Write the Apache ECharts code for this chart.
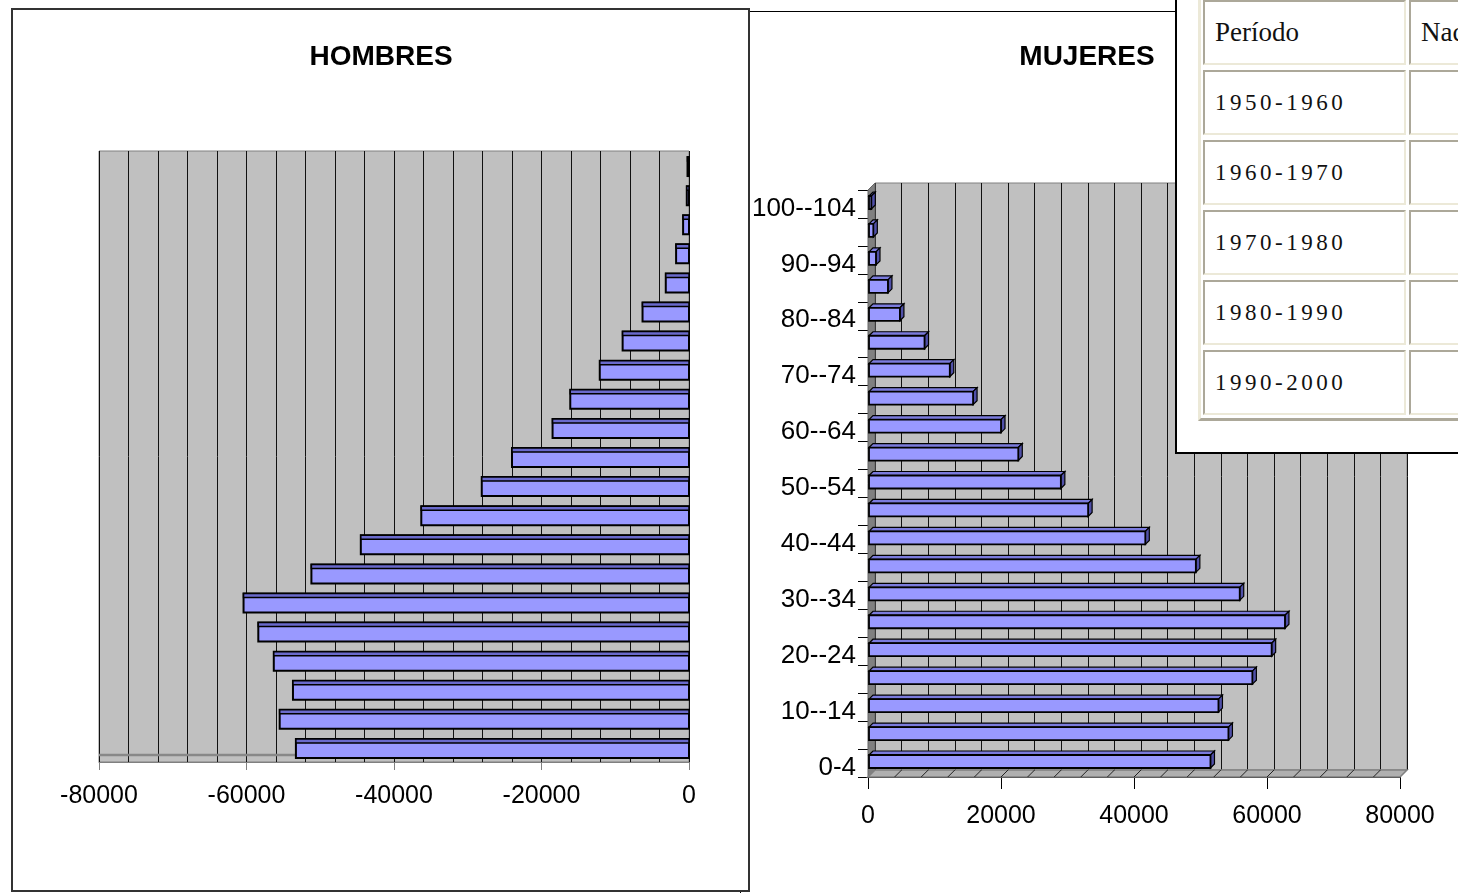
<!DOCTYPE html>
<html><head><meta charset="utf-8">
<script src="https://cdn.jsdelivr.net/npm/echarts@6/dist/echarts.min.js"></script>
<style>
html,body{margin:0;padding:0;width:1458px;height:893px;overflow:hidden;background:#fff;}
#boxR{position:absolute;left:740px;top:11px;width:900px;height:1000px;border:1.5px solid #000;z-index:0;}
#boxL{position:absolute;left:11px;top:8px;width:735px;height:880px;border:2px solid #333;background:#fff;z-index:1;}
#chart{position:absolute;left:0;top:0;width:1458px;height:893px;z-index:2;}
#tbox{position:absolute;left:1175px;top:-20px;width:400px;height:470px;border:2px solid #000;background:#fff;z-index:3;}
#tframe{position:absolute;left:1198px;top:-7px;width:500px;height:428px;box-sizing:border-box;border:3px solid;border-color:#ece9d8 #aca899 #aca899 #ece9d8;z-index:4;}
.cell{position:absolute;box-sizing:border-box;height:65px;border:2px solid;border-color:#aca899 #ece9d8 #ece9d8 #aca899;padding-left:10px;line-height:61px;font-family:"Liberation Serif","DejaVu Serif",serif;color:#111;z-index:5;white-space:nowrap;overflow:hidden;}
.hdr{font-size:27px;}
.per{font-size:23px;letter-spacing:3.5px;}
</style>
</head><body>
<div id="boxR"></div>
<div id="boxL"></div>
<div id="chart"></div>
<div id="tbox"></div>
<div id="tframe"></div>
<script>
const categories = ['0-4','5--9','10--14','15--19','20--24','25--29','30--34','35--39','40--44','45--49','50--54','55--59','60--64','65--69','70--74','75--79','80--84','85--89','90--94','95--99','100--104'];
const hombres = [-53300,-55500,-53700,-56300,-58400,-60400,-51200,-44500,-36300,-28100,-24000,-18500,-16100,-12100,-9000,-6300,-3150,-1750,-800,-300,-200];
const mujeres = [51500,54200,52700,57800,60700,62700,55900,49300,41700,33100,29000,22600,20000,15800,12300,8500,4800,3000,1200,800,500];
const titles = ['HOMBRES','MUJERES'];
const tableHeaders = ['Período','Nacimientos'];
const periods = ['1950-1960','1960-1970','1970-1980','1980-1990','1990-2000'];

// table overlay
(function(){
  const colX = [1203, 1409], colW = [203, 300];
  const rows = [tableHeaders].concat(periods.map(p => [p, '']));
  rows.forEach((r, ri) => {
    r.forEach((t, ci) => {
      const d = document.createElement('div');
      d.className = 'cell ' + (ri === 0 ? 'hdr' : 'per');
      d.style.left = colX[ci] + 'px';
      d.style.top = (ri * 70) + 'px';
      d.style.width = colW[ci] + 'px';
      d.textContent = t;
      document.body.appendChild(d);
    });
  });
})();

const FONT = '"Liberation Sans", Arial, sans-serif';
const GRID_STEP = 4000;
const chart = echarts.init(document.getElementById('chart'), null, {renderer:'canvas'});

function leftFloor(params, api){
  const b = api.size([0,1])[1];
  const pb = api.coord([0,0]);
  const xl = api.coord([-80000,0])[0];
  const y = pb[1] + b/2 - 7;
  return {type:'line', shape:{x1:xl, y1:y, x2:pb[0], y2:y}, style:{stroke:'#888', lineWidth:2.5}};
}
function flatBar(params, api){
  const v = api.value(0), i = api.value(1);
  const p0 = api.coord([0,i]), p1 = api.coord([v,i]);
  const h = 19, y = p0[1] - h/2 + 1;
  const x = Math.min(p0[0], p1[0]), w = Math.abs(p1[0]-p0[0]);
  return {type:'group', children:[
    {type:'rect', shape:{x:x, y:y, width:w, height:h}, style:{fill:'#9999ff', stroke:'#000', lineWidth:2}},
    {type:'rect', shape:{x:x, y:y, width:w, height:4}, style:{fill:'#6a6acc', stroke:'#000', lineWidth:1.5}}
  ]};
}
function rightWalls(params, api){
  const b = api.size([0,1])[1];
  const pb = api.coord([0,0]);
  const pt = api.coord([0,categories.length-1]);
  const x0 = pb[0], x1 = api.coord([80000,0])[0];
  const yb = pb[1] + b/2, yt = pt[1] - b/2;
  const D = 7;
  const kids = [
    {type:'polygon', shape:{points:[[x0,yt],[x0+D,yt-D],[x0+D,yb-D],[x0,yb]]}, style:{fill:'#808080', stroke:'#666', lineWidth:1}},
    {type:'polygon', shape:{points:[[x0,yb],[x0+D,yb-D],[x1+D,yb-D],[x1,yb]]}, style:{fill:'#b0b0b0', stroke:'#808080', lineWidth:1.5}}
  ];
  for (let v = GRID_STEP; v < 80000; v += GRID_STEP) {
    const x = api.coord([v,0])[0];
    kids.push({type:'line', shape:{x1:x, y1:yb, x2:x+D, y2:yb-D}, style:{stroke:'#222', lineWidth:1}});
  }
  return {type:'group', children:kids};
}
function boxBar(params, api){
  const v = api.value(0), i = api.value(1);
  const p0 = api.coord([0,i]), p1 = api.coord([v,i]);
  const h = 13, d = 4;
  const cy = p0[1] - 1.5;
  const x0 = p0[0] + 1, x1 = p1[0];
  const yt = cy - h/2, yb = cy + h/2;
  return {type:'group', children:[
    {type:'polygon', shape:{points:[[x0,yt],[x0+d,yt-d],[x1+d,yt-d],[x1,yt]]}, style:{fill:'#7b7bdd', stroke:'#000', lineWidth:1.2}},
    {type:'polygon', shape:{points:[[x1,yt],[x1+d,yt-d],[x1+d,yb-d],[x1,yb]]}, style:{fill:'#5050a8', stroke:'#000', lineWidth:1.2}},
    {type:'rect', shape:{x:x0, y:yt, width:x1-x0, height:h}, style:{fill:'#9999ff', stroke:'#000', lineWidth:1.8}}
  ]};
}

const option = {
  animation:false,
  backgroundColor:'transparent',
  textStyle:{fontFamily:FONT},
  graphic:[
    {type:'text', x:381, y:57, style:{text:titles[0], fontFamily:FONT, fontSize:28, fontWeight:'bold', fill:'#000', align:'center', verticalAlign:'middle'}},
    {type:'text', x:1087, y:57, style:{text:titles[1], fontFamily:FONT, fontSize:28, fontWeight:'bold', fill:'#000', align:'center', verticalAlign:'middle'}}
  ],
  grid:[
    {left:99, top:151, width:590, height:611, show:true, backgroundColor:'#c0c0c0', borderColor:'#808080', borderWidth:1},
    {left:868, top:190, width:532, height:587, show:false},
    {left:875, top:183, width:532, height:587, show:true, backgroundColor:'#c0c0c0', borderColor:'#808080', borderWidth:1}
  ],
  xAxis:[
    {gridIndex:0, type:'value', min:-80000, max:0, interval:20000,
     axisLine:{show:true, onZero:false, lineStyle:{color:'#808080', width:1}},
     axisTick:{show:true, length:8, lineStyle:{color:'#808080'}},
     axisLabel:{fontSize:25, color:'#000', margin:22, fontFamily:FONT, formatter:v=>String(v)},
     splitLine:{show:true, lineStyle:{color:'#111', width:1}},
     minorTick:{show:false, splitNumber:5},
     minorSplitLine:{show:true, lineStyle:{color:'#111', width:1}}},
    {gridIndex:1, type:'value', min:0, max:80000, interval:20000,
     axisLine:{show:true, onZero:false, lineStyle:{color:'#000', width:1}},
     axisTick:{show:true, length:12, lineStyle:{color:'#000'}},
     axisLabel:{fontSize:25, color:'#000', margin:27, fontFamily:FONT, formatter:v=>String(v)},
     splitLine:{show:false}},
    {gridIndex:2, type:'value', min:0, max:80000, interval:20000,
     axisLine:{show:false}, axisTick:{show:false}, axisLabel:{show:false},
     splitLine:{show:true, lineStyle:{color:'#111', width:1}},
     minorTick:{show:false, splitNumber:5},
     minorSplitLine:{show:true, lineStyle:{color:'#111', width:1}}}
  ],
  yAxis:[
    {gridIndex:0, type:'category', data:categories, show:false},
    {gridIndex:1, type:'category', data:categories,
     axisLine:{show:true, lineStyle:{color:'#000', width:1}},
     axisTick:{show:true, interval:0, length:10, lineStyle:{color:'#000'}},
     axisLabel:{interval:1, color:'#000', margin:12, fontFamily:FONT,
       formatter:v=>'{a|' + v + '}',
       rich:{a:{fontSize:26, fontFamily:FONT, color:'#000', padding:[9,0,0,0]}}},
     splitLine:{show:false}},
    {gridIndex:2, type:'category', data:categories, show:false}
  ],
  series:[
    {type:'custom', xAxisIndex:0, yAxisIndex:0, data:[[0,0]], renderItem:leftFloor, silent:true, z:1},
    {type:'custom', name:titles[0], xAxisIndex:0, yAxisIndex:0, data:hombres.map((v,i)=>[v,i]), encode:{x:0,y:1}, renderItem:flatBar, z:3},
    {type:'custom', xAxisIndex:1, yAxisIndex:1, data:[[0,0]], renderItem:rightWalls, silent:true, z:1},
    {type:'custom', name:titles[1], xAxisIndex:1, yAxisIndex:1, data:mujeres.map((v,i)=>[v,i]), encode:{x:0,y:1}, renderItem:boxBar, z:3}
  ]
};
chart.setOption(option);
</script>
</body></html>
